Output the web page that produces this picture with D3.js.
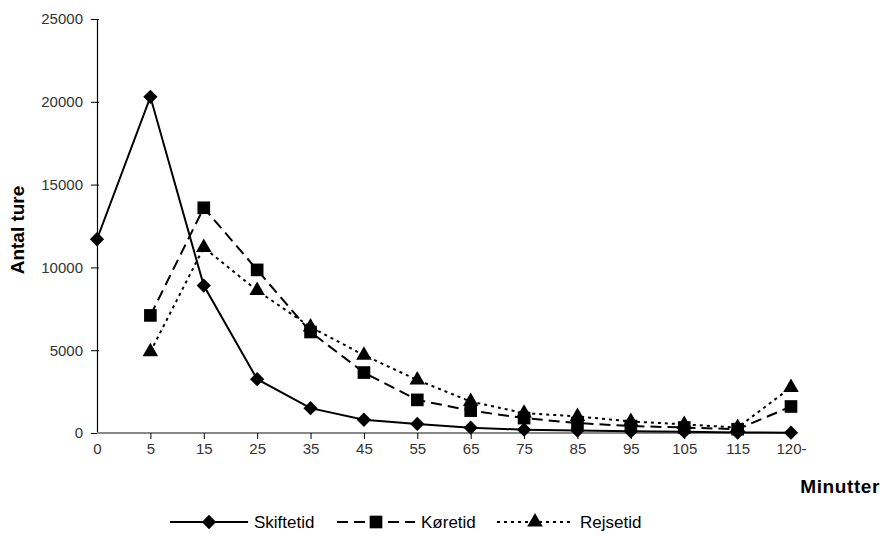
<!DOCTYPE html>
<html>
<head>
<meta charset="utf-8">
<script src="https://cdn.jsdelivr.net/npm/d3@7/dist/d3.min.js"></script>
<style>
  html, body { margin: 0; padding: 0; background: #fff; }
  svg { display: block; font-family: "Liberation Sans", Arial, sans-serif; }
</style>
</head>
<body>
<svg id="chart" width="882" height="537"></svg>
<script>
// Travel-time distribution (minutes) for three time measures
const categories = ["0", "5", "15", "25", "35", "45", "55", "65", "75", "85", "95", "105", "115", "120-"];
const skiftetid = [11700, 20300, 8900, 3250, 1500, 800, 550, 320, 200, 150, 100, 80, 30, 20];
const koeretid  = [null, 7100, 13600, 9850, 6100, 3650, 2000, 1350, 900, 600, 420, 330, 230, 1600];
const rejsetid  = [null, 4900, 11200, 8600, 6400, 4700, 3200, 1900, 1200, 1000, 700, 520, 330, 2750];
const yTicks = [0, 5000, 10000, 15000, 20000, 25000];

const series = [
  { name: "Skiftetid", values: skiftetid, dash: null,  marker: "diamond" },
  { name: "Køretid",   values: koeretid,  dash: "11,6", marker: "square" },
  { name: "Rejsetid",  values: rejsetid,  dash: "3,4", marker: "triangle" }
];

const svg = d3.select("#chart");

const x = d3.scalePoint().domain(categories).range([97, 791]);
const y = d3.scaleLinear().domain([0, 25000]).range([433, 19]);

// y axis
const yAxis = d3.axisLeft(y).tickValues(yTicks).tickFormat(d3.format("d"))
  .tickSize(6).tickSizeOuter(0).tickPadding(8);
const gy = svg.append("g").attr("transform", "translate(97,0)").call(yAxis);
gy.select(".domain").attr("stroke", "#000").attr("stroke-width", 1.2);
gy.selectAll(".tick line").attr("stroke", "#000").attr("x2", -6).attr("x1", 2);
gy.selectAll(".tick text").attr("fill", "#333").style("font-size", "15px");

// x axis (grey baseline, dark ticks)
const xAxis = d3.axisBottom(x).tickSize(6).tickSizeOuter(0).tickPadding(4);
const gx = svg.append("g").attr("transform", "translate(0,433)").call(xAxis);
gx.select(".domain").attr("stroke", "#888").attr("stroke-width", 2)
  .attr("d", `M97,0H${x("120-")}`);
gx.selectAll(".tick line").attr("stroke", "#000")
  .attr("display", (d) => (d === "0" || d === "120-") ? "none" : null);
gx.selectAll(".tick text").attr("fill", "#333").style("font-size", "15px");

// axis titles
svg.append("text")
  .attr("transform", "translate(24,230) rotate(-90)")
  .attr("text-anchor", "middle")
  .style("font-size", "19px").style("font-weight", "bold")
  .text("Antal ture");
svg.append("text")
  .attr("x", 880).attr("y", 493)
  .attr("text-anchor", "end")
  .style("font-size", "19px").style("font-weight", "bold")
  .style("letter-spacing", "0.6px")
  .text("Minutter");

// marker shapes
const symbolFor = {
  diamond: d3.symbol().type(d3.symbolDiamond2).size(130),
  square: d3.symbol().type(d3.symbolSquare).size(160),
  triangle: d3.symbol().type(d3.symbolTriangle).size(105)
};

const line = d3.line()
  .defined((d) => d.v != null)
  .x((d) => x(d.c))
  .y((d) => y(d.v));

series.forEach((s) => {
  const pts = categories.map((c, i) => ({ c, v: s.values[i] }));
  svg.append("path")
    .datum(pts)
    .attr("fill", "none")
    .attr("stroke", "#000")
    .attr("stroke-width", 2)
    .attr("stroke-dasharray", s.dash)
    .attr("d", line);
  svg.append("g").selectAll("path")
    .data(pts.filter((d) => d.v != null))
    .join("path")
    .attr("transform", (d) => `translate(${x(d.c)},${y(d.v)})`)
    .attr("d", symbolFor[s.marker])
    .attr("fill", "#000");
});

// legend
const legendY = 522;
const legendItems = [
  { s: series[0], x0: 170, x1: 248, tx: 254 },
  { s: series[1], x0: 337, x1: 415, tx: 421 },
  { s: series[2], x0: 497, x1: 573, tx: 580 }
];
legendItems.forEach((it) => {
  const g = svg.append("g");
  g.append("line")
    .attr("x1", it.x0).attr("x2", it.x1)
    .attr("y1", legendY).attr("y2", legendY)
    .attr("stroke", "#000").attr("stroke-width", 2)
    .attr("stroke-dasharray", it.s.dash);
  g.append("path")
    .attr("transform", `translate(${(it.x0 + it.x1) / 2},${legendY})`)
    .attr("d", symbolFor[it.s.marker])
    .attr("fill", "#000");
  g.append("text")
    .attr("x", it.tx).attr("y", legendY + 6)
    .style("font-size", "17px")
    .text(it.s.name);
});
</script>
</body>
</html>
